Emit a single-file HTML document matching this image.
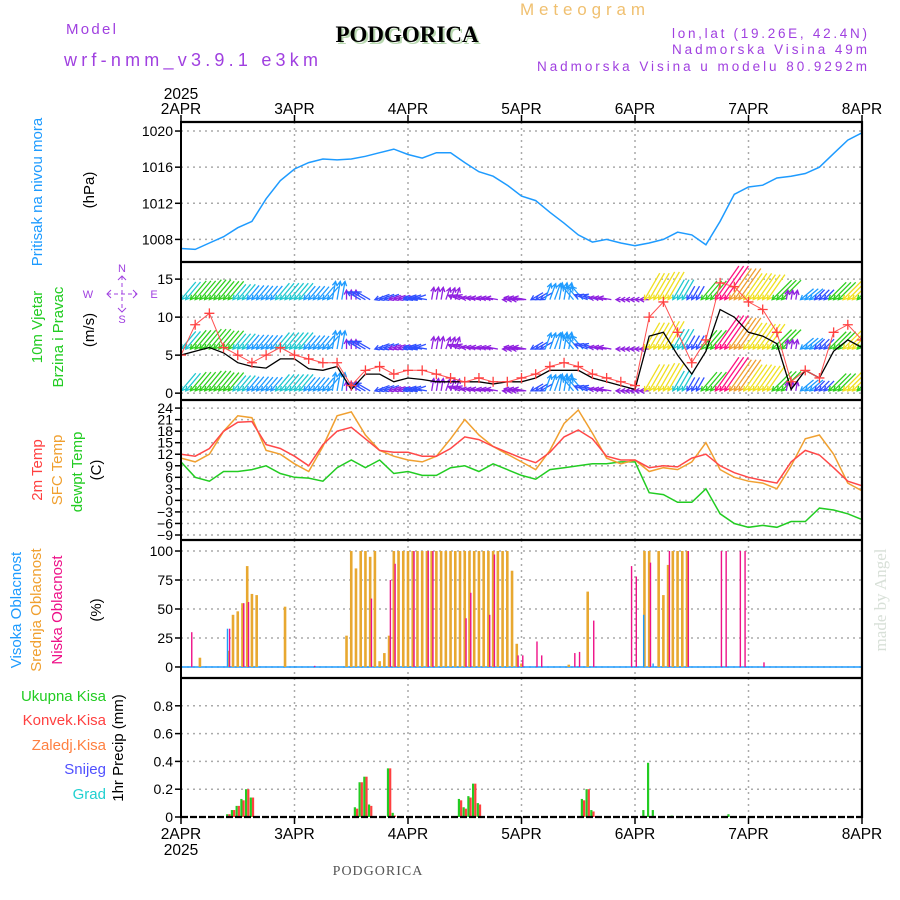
<!DOCTYPE html>
<html><head><meta charset="utf-8">
<style>
html,body{margin:0;padding:0;background:#fff;}
svg{display:block;font-family:"Liberation Sans",sans-serif;}
</style></head>
<body>
<svg id="c" width="900" height="900" viewBox="0 0 900 900">
<g>
<text x="66" y="34" font-size="15" fill="#a040e0" textLength="50">Model</text>
<text x="64" y="66" font-size="18" fill="#a040e0" textLength="254">wrf-nmm_v3.9.1 e3km</text>
<text x="409" y="44" font-size="23" font-weight="bold" text-anchor="middle" font-family="Liberation Serif,serif" fill="#b8d8b0">PODGORICA</text>
<text x="407" y="42" font-size="23" font-weight="bold" text-anchor="middle" font-family="Liberation Serif,serif" fill="#000">PODGORICA</text>
<text x="520" y="15" font-size="17" fill="#f0c070" textLength="125">Meteogram</text>
<text x="672" y="38" font-size="13.5" fill="#a040e0" textLength="195">lon,lat (19.26E, 42.4N)</text>
<text x="672" y="54" font-size="13.5" fill="#a040e0" textLength="195">Nadmorska Visina 49m</text>
<text x="537" y="71" font-size="13.5" fill="#a040e0" textLength="330">Nadmorska Visina u modelu 80.9292m</text>
</g>
<g font-size="15">
<text transform="translate(42,192) rotate(-90)" text-anchor="middle" fill="#1e9bff">Pritisak na nivou mora</text>
<text transform="translate(94,190) rotate(-90)" text-anchor="middle" fill="#000">(hPa)</text>
<text transform="translate(42,327) rotate(-90)" text-anchor="middle" fill="#22cc22">10m Vjetar</text>
<text transform="translate(63,337) rotate(-90)" text-anchor="middle" fill="#22cc22">Brzina i Pravac</text>
<text transform="translate(94,330) rotate(-90)" text-anchor="middle" fill="#000">(m/s)</text>
<g stroke="#a040e0" stroke-width="1" fill="none">
<line x1="107" y1="294" x2="137" y2="294" stroke-dasharray="4 3"/>
<line x1="122" y1="276" x2="122" y2="312" stroke-dasharray="4 3"/>
<polyline points="111,290 107,294 111,298"/><polyline points="133,290 137,294 133,298"/>
<polyline points="118,280 122,276 126,280"/><polyline points="118,308 122,312 126,308"/>
</g>
<g fill="#a040e0" font-size="11" text-anchor="middle">
<text x="122" y="272">N</text>
<text x="88" y="298">W</text>
<text x="154" y="298">E</text>
<text x="122" y="323">S</text>
</g>
<text transform="translate(42,470) rotate(-90)" text-anchor="middle" fill="#ff4040">2m Temp</text>
<text transform="translate(62,470) rotate(-90)" text-anchor="middle" fill="#f0a030">SFC Temp</text>
<text transform="translate(82,472) rotate(-90)" text-anchor="middle" fill="#22cc22">dewpt Temp</text>
<text transform="translate(101,470) rotate(-90)" text-anchor="middle" fill="#000">(C)</text>
<text transform="translate(21,610) rotate(-90)" text-anchor="middle" fill="#1e9bff">Visoka Oblacnost</text>
<text transform="translate(41,610) rotate(-90)" text-anchor="middle" fill="#f0a030">Srednja Oblacnost</text>
<text transform="translate(62,610) rotate(-90)" text-anchor="middle" fill="#ee1188">Niska Oblacnost</text>
<text transform="translate(101,610) rotate(-90)" text-anchor="middle" fill="#000">(%)</text>
<text x="106" y="701" text-anchor="end" fill="#22cc22">Ukupna  Kisa</text>
<text x="106" y="725" text-anchor="end" fill="#ff4040">Konvek.Kisa</text>
<text x="106" y="750" text-anchor="end" fill="#ff8040">Zaledj.Kisa</text>
<text x="106" y="774" text-anchor="end" fill="#5050ff">Snijeg</text>
<text x="106" y="799" text-anchor="end" fill="#20d0d0">Grad</text>
<text transform="translate(123,748) rotate(-90)" text-anchor="middle" fill="#000">1hr Precip (mm)</text>
</g>
<text transform="translate(886,600) rotate(-90)" text-anchor="middle" font-size="17" font-family="Liberation Serif,serif" fill="#d8e0d8">made by Angel</text>
<text x="378" y="875" text-anchor="middle" font-size="14" font-family="Liberation Serif,serif" fill="#555" letter-spacing="1">PODGORICA</text>
<g id="plot"></g>
</svg>
<script>
const days=["2APR","3APR","4APR","5APR","6APR","7APR","8APR"];
const presTicks=[1008,1012,1016,1020];
const windTicks=[0,5,10,15];
const tempTicks=[-9,-6,-3,0,3,6,9,12,15,18,21,24];
const cloudTicks=[0,25,50,75,100];
const precTicks=[0,0.2,0.4,0.6,0.8];
const precTickLabels=["0","0.2","0.4","0.6","0.8"];
// 3-hourly series (49 points)
const pressure=[1007,1006.9,1007.6,1008.3,1009.3,1010,1012.5,1014.5,1015.8,1016.5,1016.9,1016.8,1016.9,1017.2,1017.6,1018,1017.4,1017,1017.6,1017.6,1016.5,1015.5,1015,1014,1012.8,1012.3,1011,1009.8,1008.5,1007.7,1008,1007.6,1007.3,1007.6,1008,1008.8,1008.5,1007.4,1010,1013,1013.8,1014,1014.8,1015,1015.3,1016,1017.5,1019,1019.8];
const temp2m=[12,11.5,13.5,18,20.3,20.5,14.5,13.5,11.5,9,14.5,18,19,16,13,12.5,12.5,11.5,11.5,13.5,16.5,15.8,14,12.5,11,9.8,12.5,16.5,18.3,16,11.5,10.5,10.5,8.5,9,8.7,11,12,9,7.2,6,5.2,4.5,10,13,11.8,8.5,5,3.8];
const tempSfc=[11,10,12,18,22,21.5,13,12,9.5,7.5,14,22,23,17,13,11.5,10.5,10,11.5,16,21,17,14,12,10,8,13,20,23.5,17.5,11,9.5,10.5,7.5,8.5,8,10,15,8,6,5,4.5,3,9,16,17,12,4.5,2.5];
const dewpt=[10,6,5,7.5,7.5,8,9,7,6,5.8,5,8.5,10.5,8.5,10.5,7,7.5,6.5,6.5,8.5,9,7.5,9.5,8,6.5,5.5,8,8.5,9,9.5,9.5,10,10,2,1.5,-0.5,-0.5,3,-3.5,-6,-7,-6.5,-7,-5.5,-5.5,-2,-2.5,-3.5,-5];
const windSpeed=[5,5.5,6,5.3,4,3.5,3.3,4.5,4.5,3.2,3,3.5,0.5,2.5,2.5,1.5,2,1.8,1.5,1.5,1.5,1.5,1.2,1.5,1.5,2,3,3,3,2,1.5,1,0.5,7.5,8,5,2.5,5.5,11,10,8,7.5,6.5,0.5,3,2,5.5,7,6];
const windGust=[5,9,10.5,6,5,4,5,6,5,4.5,4,4,1,3,3.5,2.5,3,3,2.5,2,1.5,2,1.5,1.5,2,2.5,3.5,4,3.5,2.5,2,1.5,1,10,12,8,4,7,14.5,14,12,11,8,1.5,3,2,8,9,7];
const windDir=[220,220,220,220,220,220,220,220,220,220,220,10,0,300,250,250,250,280,10,20,290,280,280,270,280,240,20,10,320,290,280,270,270,210,210,210,210,220,215,215,215,215,225,10,230,225,225,225,225];
// hourly cloud bars (hour index, percent)
const midH=[4,10,11,12,13,14,15,16,22,35,36,37,38,39,40,41,42,43,44,45,46,47,48,49,50,51,52,53,54,55,56,57,58,59,60,61,62,63,64,65,66,67,68,69,70,71,72,82,86,98,99,101,102,103,104,105,106,107];
const midV=[8,14,45,48,55,87,63,62,52,27,100,85,100,100,95,100,5,12,27,100,100,100,100,100,100,100,100,100,100,100,100,100,100,100,100,100,100,100,100,100,100,100,100,100,83,20,3,2,65,100,100,100,62,88,100,100,100,100];
const lowH=[2,10,13,14,28,40,44,45,49,52,53,60,61,65,66,71,72,75,76,83,84,87,95,96,99,103,107,114,115,118,119,123];
const lowV=[30,33,55,56,1,59,75,89,100,100,100,42,64,45,97,10,10,22,10,12,13,40,87,78,90,100,100,100,100,100,100,4];
const highH=[10,98,100];
const highV=[33,45,3];
// hourly precipitation (hour index, mm)
const precH=[10,11,12,13,14,15,37,38,39,40,44,45,59,60,61,62,63,85,86,87,98,99,100,104,116];
const precTotal=[0.02,0.05,0.08,0.13,0.2,0.14,0.07,0.25,0.29,0.09,0.35,0.03,0.13,0.07,0.15,0.24,0.1,0.13,0.2,0.05,0.05,0.39,0.05,0.01,0.02];
const precConv=[0.02,0.05,0.08,0.12,0.2,0.14,0.06,0.25,0.29,0.08,0.35,0.01,0.12,0.06,0.14,0.24,0.09,0.12,0.2,0.04,0,0,0,0,0];

const NS="http://www.w3.org/2000/svg";
const X0=181,X1=862;
const xH=h=>X0+(X1-X0)*h/144;
const x3=i=>xH(i*3);
const P={pres:{t:122,b:262,min:1005.5,max:1021},wind:{t:262,b:400,min:-0.9,max:17.25},
 temp:{t:400,b:540,min:-10.3,max:26.1},cloud:{t:540,b:678,min:-9.5,max:109.5},prec:{t:678,b:817,min:0,max:1.0}};
const yS=(p,v)=>p.b-(v-p.min)/(p.max-p.min)*(p.b-p.t);
const plot=document.getElementById('plot');
function el(tag,attrs,parent){const e=document.createElementNS(NS,tag);for(const k in attrs)e.setAttribute(k,attrs[k]);(parent||plot).appendChild(e);return e;}

const defs=el('defs',{});
for(const k in P){const cp=el('clipPath',{id:'clip-'+k},defs);el('rect',{x:X0,y:P[k].t,width:X1-X0,height:P[k].b-P[k].t},cp);}

function panelGrid(key,ticks,labels){
  const p=P[key];
  const g=el('g',{});
  
  
  days.forEach((d,i)=>{if(i>0&&i<6)el('line',{x1:x3(i*8),x2:x3(i*8),y1:p.t,y2:p.b,stroke:'#aaa','stroke-width':1.5,'stroke-dasharray':'2 4'},g);});
  ticks.forEach((t,i)=>{const y=yS(p,t);
    if(!(key==='prec'&&t===0))el('line',{x1:X0,x2:X1,y1:y,y2:y,stroke:'#aaa','stroke-width':1.5,'stroke-dasharray':'2 4'},g);
    el('line',{x1:X0-6,x2:X0,y1:y,y2:y,stroke:'#000','stroke-width':1.5},g);
    const tx=el('text',{x:X0-8,y:y+5,'text-anchor':'end','font-size':14,fill:'#000'},g);
    tx.textContent=labels?labels[i]:String(t).replace('-','\u2212');
  });
  return g;
}
panelGrid('pres',presTicks);
panelGrid('wind',windTicks);
panelGrid('temp',tempTicks);
panelGrid('cloud',cloudTicks);
panelGrid('prec',precTicks,precTickLabels);

function line(key,arr,color,name,w){
  const p=P[key];
  const d=arr.map((v,i)=>(i?'L':'M')+x3(i).toFixed(1)+','+yS(p,v).toFixed(1)).join('');
  const e=el('path',{d:d,fill:'none',stroke:color,'stroke-width':w||1.5,'clip-path':'url(#clip-'+key+')'});
  
  
}
line('pres',pressure,'#1e9bff','pressure-line');

function spdColor(s){
  if(s<1.7)return '#9020e0';
  if(s<2.7)return '#3050ff';
  if(s<4)return '#1e9bff';
  if(s<5.2)return '#20c8d0';
  if(s<7)return '#30d020';
  if(s<9)return '#f0e020';
  if(s<11)return '#f0a030';
  return '#ff1080';
}
const wg=el('g',{'clip-path':'url(#clip-wind)'});


const rows=[0.3,5.8,12.3];
for(let h=0;h<=144;h++){
  const i=Math.round(h/3);
  const s=windSpeed[i],dir=windDir[i]*Math.PI/180;
  const L=8+s*3;
  const col=spdColor(s);
  rows.forEach(r=>{
    const x=xH(h);
    const yb=yS(P.wind,r);
    const dx=Math.sin(dir)*L,dy=-Math.cos(dir)*L;
    let x1,y1,x2,y2;
    if(dy<0){x1=x;y1=yb;x2=x+dx;y2=yb+dy;}else{x2=x;y2=yb;x1=x-dx;y1=yb-dy;}
    el('line',{x1:x1,y1:y1,x2:x2,y2:y2,stroke:col,'stroke-width':1.3},wg);
    const a=Math.atan2(y2-y1,x2-x1);
    const hx1=x2-5*Math.cos(a-0.5),hy1=y2-5*Math.sin(a-0.5),hx2=x2-5*Math.cos(a+0.5),hy2=y2-5*Math.sin(a+0.5);
    el('polyline',{points:`${hx1},${hy1} ${x2},${y2} ${hx2},${hy2}`,fill:'none',stroke:col,'stroke-width':1.3},wg);
  });
}
line('wind',windSpeed,'#000','wind-speed-line',1.3);
line('wind',windGust,'#ff5050','wind-gust-line',1);
windGust.forEach((v,i)=>{
  const x=x3(i),y=yS(P.wind,v);
  const m=el('path',{d:`M${x-5},${y}h10M${x},${y-5}v10`,stroke:'#ff4040','stroke-width':1.3,'clip-path':'url(#clip-wind)'});
  
  
});

line('temp',dewpt,'#22cc22','dewpoint-line');
line('temp',tempSfc,'#f0a030','sfc-temp-line');
line('temp',temp2m,'#ff4848','temp2m-line');

const cz=yS(P.cloud,0);
el('line',{x1:X0,x2:X1,y1:cz,y2:cz,stroke:'#1e9bff','stroke-width':1.5});
function bars(key,H,V,color,w,off,name){
  const p=P[key],y0=yS(p,0);
  H.forEach((h,i)=>{if(V[i]<=0)return;const y=yS(p,V[i]);
    const r=el('rect',{x:xH(h)+off,y:y,width:w,height:y0-y,fill:color});
    
    });
}
bars('cloud',midH,midV,'#e8a830',2.6,-1.3,'mid-cloud-bar');
bars('cloud',lowH,lowV,'#ee1188',1.4,0.6,'low-cloud-bar');
bars('cloud',highH,highV,'#1e9bff',1.4,-1.5,'high-cloud-bar');

bars('prec',precH,precTotal,'#22cc22',2.2,-2.2,'precip-total-bar');
bars('prec',precH,precConv,'#ff4040',2.2,0,'precip-conv-bar');

const fr=el('g',{});


[122,262,400,540,678].forEach(y=>el('line',{x1:X0,x2:X1+1,y1:y,y2:y,stroke:'#000','stroke-width':2.2},fr));
el('line',{x1:X0,x2:X1+1,y1:817,y2:817,stroke:'#000','stroke-width':2.2,'stroke-dasharray':'7 2'},fr);
el('line',{x1:X0,x2:X0,y1:121,y2:818,stroke:'#000','stroke-width':2},fr);
el('line',{x1:X1,x2:X1,y1:121,y2:818,stroke:'#000','stroke-width':2.2},fr);
days.forEach((d,i)=>{const x=x3(i*8);
  el('line',{x1:x,x2:x,y1:115,y2:122,stroke:'#000','stroke-width':1.5},fr);
  el('line',{x1:x,x2:x,y1:817,y2:824,stroke:'#000','stroke-width':1.5},fr);
  const t=el('text',{x:x,y:114,'text-anchor':'middle','font-size':15.5,fill:'#000'},fr);t.textContent=d;
  const b=el('text',{x:x,y:839,'text-anchor':'middle','font-size':15.5,fill:'#000'},fr);b.textContent=d;
});
const y1=el('text',{x:X0,y:99,'text-anchor':'middle','font-size':15.5,fill:'#000'},fr);y1.textContent='2025';
const y2=el('text',{x:X0,y:855,'text-anchor':'middle','font-size':15.5,fill:'#000'},fr);y2.textContent='2025';
</script>
</body></html>
